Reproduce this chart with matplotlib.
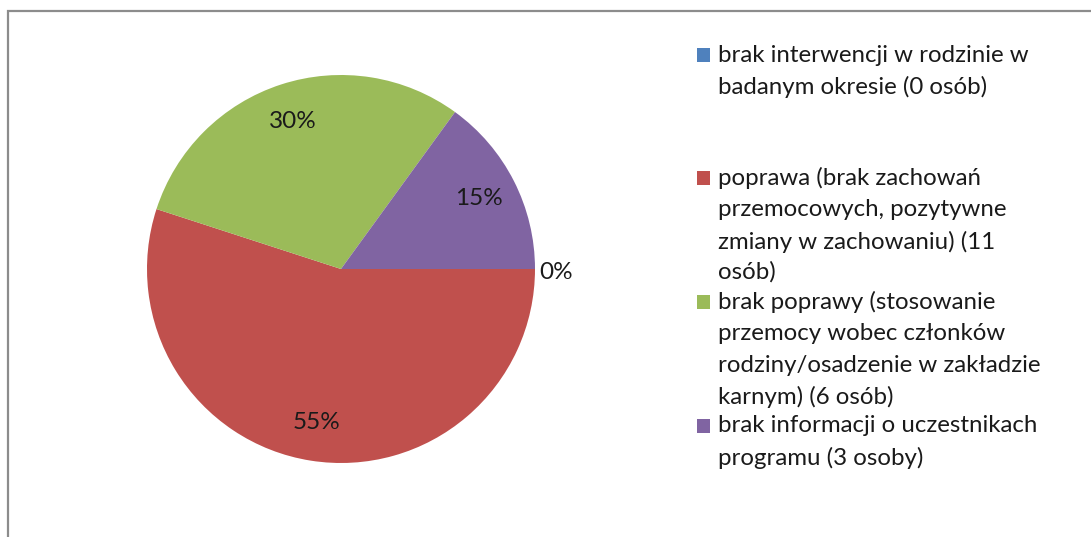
import matplotlib.pyplot as plt
from matplotlib.patches import Rectangle

plt.rcParams['font.family'] = ['Lato', 'DejaVu Sans']

labels = [
    "brak interwencji w rodzinie w\nbadanym okresie (0 osób)",
    "poprawa (brak zachowań\nprzemocowych, pozytywne\nzmiany w zachowaniu) (11\nosób)",
    "brak poprawy (stosowanie\nprzemocy wobec członków\nrodziny/osadzenie w zakładzie\nkarnym) (6 osób)",
    "brak informacji o uczestnikach\nprogramu (3 osoby)",
]
counts = [0, 11, 6, 3]
colors = ['#4F81BD', '#C0504D', '#9BBB59', '#8064A2']

W, H = 1091, 537
fig = plt.figure(figsize=(W / 100, H / 100), dpi=100)

def fx(px):
    return px / W

def fy(py):
    return 1 - py / H

# pie area: centre (341, 269), radius 194 px
cx, cy, r = 341, 269, 194
ax = fig.add_axes([fx(cx - r), fy(cy + r), 2 * r / W, 2 * r / H])
wedges, texts, autotexts = ax.pie(counts, colors=colors, startangle=0, counterclock=False,
                                  autopct='%.0f%%', pctdistance=0.8,
                                  textprops={'fontsize': 17.5, 'color': '#1a1a1a'},
                                  wedgeprops={'linewidth': 0})
ax.set_xlim(-1, 1)
ax.set_ylim(-1, 1)
# the 0% label sits just outside the pie
autotexts[0].set_position((1.11, -0.02))

# legend drawn by hand to copy the reference layout
line_y = [[55, 87], [178, 210, 242, 272], [302, 334, 366, 397], [426, 458]]
for lab, col, ys in zip(labels, colors, line_y):
    fig.patches.append(Rectangle((fx(697), fy(ys[0] + 7)), 13 / W, 14 / H,
                                 transform=fig.transFigure, facecolor=col,
                                 edgecolor='none'))
    for line, y in zip(lab.split('\n'), ys):
        fig.text(fx(718), fy(y), line, fontsize=17.3, color='#1a1a1a',
                 va='center', ha='left')

# chart frame (only top and left edges visible)
fig.patches.append(Rectangle((fx(8), -0.1), 1.2, fy(11) + 0.1,
                             transform=fig.transFigure, facecolor='none',
                             edgecolor='#8c8c8c', linewidth=1.6))

fig.savefig('out.png', dpi=100)
